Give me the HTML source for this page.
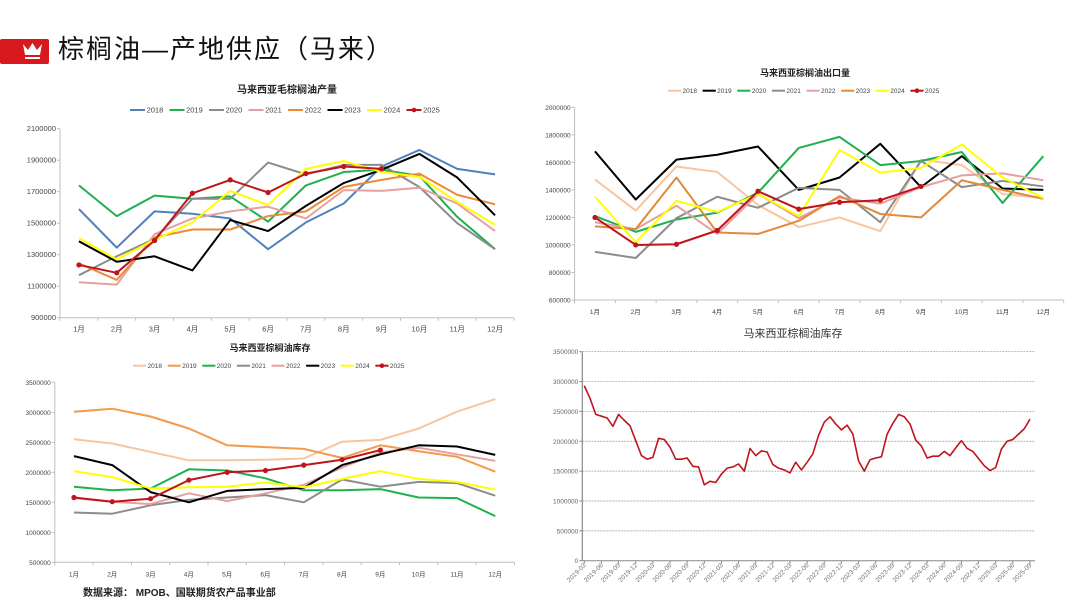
<!DOCTYPE html>
<html><head><meta charset="utf-8"><style>
body{margin:0;background:#fff;width:1080px;height:608px;overflow:hidden;font-family:"Liberation Sans","Noto Sans CJK SC",sans-serif}
svg{position:absolute;left:0;top:0}
</style></head><body>
<svg id="s" width="1080" height="608" xmlns="http://www.w3.org/2000/svg" font-family="Liberation Sans, Noto Sans CJK SC, sans-serif">
<rect x="0" y="39" width="49" height="25" rx="2" fill="#d7181d"/>
<path d="M23 44 L28 50 L32.5 43 L37 50 L42 44 L40 55 L25 55 Z M25 57 H40 V59 H25 Z" fill="#fff"/>
<text x="58" y="58" font-size="26" letter-spacing="2" fill="#111">棕榈油—产地供应（马来）</text>
<text x="83" y="596" font-size="10" font-weight="bold" fill="#222">数据来源： MPOB、国联期货农产品事业部</text>
<g id="g"></g>
</svg>
<script>
const months=['1月','2月','3月','4月','5月','6月','7月','8月','9月','10月','11月','12月'];
const years=['2018','2019','2020','2021','2022','2023','2024','2025'];
const prodTicks=[900000,1100000,1300000,1500000,1700000,1900000,2100000];
const prod2018=[1590000,1345000,1575000,1560000,1530000,1335000,1505000,1625000,1860000,1965000,1845000,1810000];
const prod2019=[1740000,1545000,1675000,1655000,1670000,1510000,1740000,1825000,1840000,1800000,1540000,1335000];
const prod2020=[1170000,1290000,1400000,1655000,1655000,1885000,1810000,1870000,1870000,1730000,1500000,1335000];
const prod2021=[1125000,1110000,1430000,1530000,1575000,1605000,1530000,1710000,1705000,1725000,1625000,1450000];
const prod2022=[1245000,1140000,1410000,1460000,1460000,1545000,1575000,1730000,1775000,1815000,1680000,1620000];
const prod2023=[1385000,1255000,1290000,1200000,1520000,1450000,1610000,1755000,1840000,1940000,1790000,1550000];
const prod2024=[1405000,1270000,1395000,1505000,1705000,1615000,1845000,1895000,1825000,1795000,1635000,1490000];
const prod2025=[1235000,1185000,1390000,1690000,1775000,1695000,1815000,1860000,1845000];
const expTicks=[600000,800000,1000000,1200000,1400000,1600000,1800000,2000000];
const exp2018=[1475000,1250000,1570000,1530000,1290000,1130000,1200000,1100000,1620000,1580000,1370000,1340000];
const exp2019=[1680000,1330000,1620000,1655000,1715000,1400000,1490000,1735000,1420000,1645000,1410000,1400000];
const exp2020=[1210000,1095000,1185000,1235000,1380000,1705000,1785000,1580000,1610000,1675000,1305000,1645000];
const exp2021=[950000,905000,1195000,1350000,1270000,1415000,1400000,1165000,1610000,1420000,1465000,1425000];
const exp2022=[1165000,1115000,1285000,1080000,1370000,1195000,1345000,1300000,1420000,1505000,1520000,1470000];
const exp2023=[1135000,1115000,1490000,1090000,1080000,1175000,1355000,1225000,1200000,1470000,1400000,1335000];
const exp2024=[1350000,1020000,1320000,1240000,1370000,1210000,1690000,1525000,1560000,1730000,1490000,1340000];
const exp2025=[1200000,1000000,1005000,1105000,1390000,1260000,1310000,1325000,1425000];
const stkTicks=[500000,1000000,1500000,2000000,2500000,3000000,3500000];
const stk2018=[2550000,2480000,2340000,2200000,2200000,2210000,2230000,2510000,2540000,2730000,3010000,3220000];
const stk2019=[3010000,3060000,2930000,2730000,2450000,2420000,2390000,2240000,2450000,2350000,2260000,2010000];
const stk2020=[1760000,1700000,1730000,2050000,2030000,1900000,1700000,1700000,1720000,1580000,1570000,1270000];
const stk2021=[1330000,1310000,1450000,1540000,1580000,1620000,1500000,1880000,1760000,1840000,1820000,1610000];
const stk2022=[1570000,1510000,1470000,1650000,1520000,1650000,1790000,2080000,2330000,2410000,2300000,2190000];
const stk2023=[2270000,2120000,1670000,1500000,1690000,1720000,1740000,2120000,2300000,2450000,2430000,2290000];
const stk2024=[2020000,1920000,1730000,1750000,1760000,1830000,1750000,1890000,2020000,1890000,1840000,1710000];
const stk2025=[1580000,1510000,1560000,1870000,2000000,2030000,2120000,2210000,2370000];
const tsStart=[2019,3];
const tsTicks=[0,500000,1000000,1500000,2000000,2500000,3000000,3500000];
const tsValues=[2930000,2720000,2450000,2420000,2390000,2250000,2450000,2350000,2260000,2010000,1760000,1700000,1730000,2050000,2030000,1900000,1700000,1700000,1720000,1580000,1570000,1270000,1330000,1310000,1450000,1550000,1570000,1620000,1500000,1880000,1760000,1840000,1820000,1610000,1550000,1520000,1470000,1650000,1520000,1650000,1790000,2100000,2320000,2410000,2290000,2190000,2270000,2120000,1670000,1500000,1690000,1720000,1740000,2120000,2300000,2450000,2410000,2290000,2020000,1920000,1720000,1750000,1750000,1830000,1760000,1890000,2010000,1880000,1830000,1710000,1590000,1510000,1560000,1870000,2000000,2030000,2120000,2210000,2370000];

const NS='http://www.w3.org/2000/svg';
const G=document.getElementById('g');
function el(tag,attrs,parent,text){const e=document.createElementNS(NS,tag);for(const k in attrs)e.setAttribute(k,attrs[k]);if(text!==undefined)e.textContent=text;(parent||G).appendChild(e);return e;}

function yearChart(cfg){
  const g=el('g',{});
  
  
  const y=v=>cfg.y1+(cfg.tmax-v)/(cfg.tmax-cfg.tmin)*(cfg.y0-cfg.y1);
  const bw=(cfg.x1-cfg.x0)/12;
  const x=i=>cfg.x0+bw*(i+0.5);
  const t=el('text',{x:cfg.tx,y:cfg.ty,'font-size':cfg.tfs,'font-weight':'bold','text-anchor':'middle',fill:'#222'},g,cfg.title);
  
  
  el('line',{x1:cfg.x0,y1:cfg.y1,x2:cfg.x0,y2:cfg.y0,stroke:'#bfbfbf','stroke-width':1},g);
  el('line',{x1:cfg.x0,y1:cfg.y0,x2:cfg.x1,y2:cfg.y0,stroke:'#bfbfbf','stroke-width':1},g);
  cfg.ticks.forEach(v=>{
    el('line',{x1:cfg.x0-3,x2:cfg.x0,y1:y(v),y2:y(v),stroke:'#bfbfbf'},g);
    const l=el('text',{x:cfg.x0-4,y:y(v)+2.5,'font-size':cfg.fs,'text-anchor':'end',fill:'#444'},g,String(v));
    
    
  });
  for(let i=0;i<=12;i++)el('line',{x1:cfg.x0+bw*i,x2:cfg.x0+bw*i,y1:cfg.y0,y2:cfg.y0+3,stroke:'#bfbfbf'},g);
  months.forEach((m,i)=>{
    const l=el('text',{x:x(i),y:cfg.y0+14,'font-size':cfg.fs,'text-anchor':'middle',fill:'#444'},g,m);
    
    
  });
  const lw=(cfg.lx1-cfg.lx0)/8;
  cfg.series.forEach((s,k)=>{
    const c=cfg.colors[k];
    const pts=s.map((v,i)=>x(i)+','+y(v)).join(' ');
    const p=el('polyline',{points:pts,fill:'none',stroke:c,'stroke-width':2,'stroke-linejoin':'round'},g);
    
    
    if(k===7)s.forEach((v,i)=>{const m=el('circle',{cx:x(i),cy:y(v),r:2.6,fill:c},g);
      
      });
    const lx=cfg.lx0+lw*k;
    const le=el('g',{},g);
    
    
    el('line',{x1:lx,x2:lx+lw*0.38,y1:cfg.ly,y2:cfg.ly,stroke:c,'stroke-width':2},le);
    if(k===7)el('circle',{cx:lx+lw*0.19,cy:cfg.ly,r:2.3,fill:c},le);
    el('text',{x:lx+lw*0.42,y:cfg.ly+2.5,'font-size':cfg.fs,fill:'#444'},le,years[k]);
  });
}

yearChart({name:'production-chart',title:'马来西亚毛棕榈油产量',tx:287,ty:93,tfs:10,x0:60,x1:514,y0:317.7,y1:128.7,tmin:900000,tmax:2100000,ticks:prodTicks,fs:7.5,
  series:[prod2018,prod2019,prod2020,prod2021,prod2022,prod2023,prod2024,prod2025],
  colors:['#4f81bd','#1fb050','#8c8c8c','#e6a0a0','#e98b3a','#000000','#ffff00','#c0141c'],lx0:130,lx1:446,ly:110});
yearChart({name:'export-chart',title:'马来西亚棕榈油出口量',tx:805,ty:76,tfs:9,x0:574.6,x1:1063.7,y0:300,y1:107.3,tmin:600000,tmax:2000000,ticks:expTicks,fs:6.5,
  series:[exp2018,exp2019,exp2020,exp2021,exp2022,exp2023,exp2024,exp2025],
  colors:['#f7c59f','#000000','#1fb050','#8c8c8c','#e6a0a0','#e08a3c','#ffff00','#c0141c'],lx0:668,lx1:945,ly:90.7});
yearChart({name:'stock-chart',title:'马来西亚棕榈油库存',tx:270,ty:351,tfs:9,x0:54.8,x1:514.4,y0:562.3,y1:382.3,tmin:500000,tmax:3500000,ticks:stkTicks,fs:6.5,
  series:[stk2018,stk2019,stk2020,stk2021,stk2022,stk2023,stk2024,stk2025],
  colors:['#f7c59f','#f39a4b','#1fb050','#8c8c8c','#e6a0a0','#000000','#ffff00','#c0141c'],lx0:133,lx1:410,ly:365.7});

(function(){
  const g=el('g',{});
  
  
  const X0=582.3,X1=1035,Y0=560.7,Y1=351.7,PX0=584.3,PX1=1030;
  const tmax=tsTicks[tsTicks.length-1];
  const y=v=>Y0-v/tmax*(Y0-Y1);
  const n=tsValues.length;
  const x=i=>PX0+(PX1-PX0)*i/(n-1);
  const t=el('text',{x:793,y:337,'font-size':11,'text-anchor':'middle',fill:'#333'},g,'马来西亚棕榈油库存');
  
  
  tsTicks.forEach(v=>{
    if(v>0)el('line',{x1:X0,x2:X1,y1:y(v),y2:y(v),stroke:'#999','stroke-dasharray':'2,1','stroke-width':0.7},g);
    el('line',{x1:X0-3,x2:X0,y1:y(v),y2:y(v),stroke:'#888'},g);
    const l=el('text',{x:X0-4,y:y(v)+2.5,'font-size':6.5,'text-anchor':'end',fill:'#666'},g,String(v));
    
    
  });
  el('line',{x1:X0,x2:X0,y1:Y1,y2:Y0,stroke:'#888','stroke-width':1.2},g);
  el('line',{x1:X0,x2:X1,y1:Y0,y2:Y0,stroke:'#888','stroke-width':1},g);
  for(let i=0;i<n;i+=3){
    const mo=(tsStart[1]-1+i)%12+1, yr=tsStart[0]+Math.floor((tsStart[1]-1+i)/12);
    const lab=yr+'-'+(mo<10?'0':'')+mo;
    el('line',{x1:x(i),x2:x(i),y1:Y0,y2:Y0+3,stroke:'#888'},g);
    const l=el('text',{x:x(i)+2,y:Y0+5,'font-size':6.5,'text-anchor':'end',fill:'#777',transform:`rotate(-45 ${x(i)+2} ${Y0+5})`},g,lab);
    
    
  }
  const p=el('polyline',{points:tsValues.map((v,i)=>x(i)+','+y(v)).join(' '),fill:'none',stroke:'#c0141c','stroke-width':1.6,'stroke-linejoin':'round'},g);
  
  
})();
</script>
</body></html>
